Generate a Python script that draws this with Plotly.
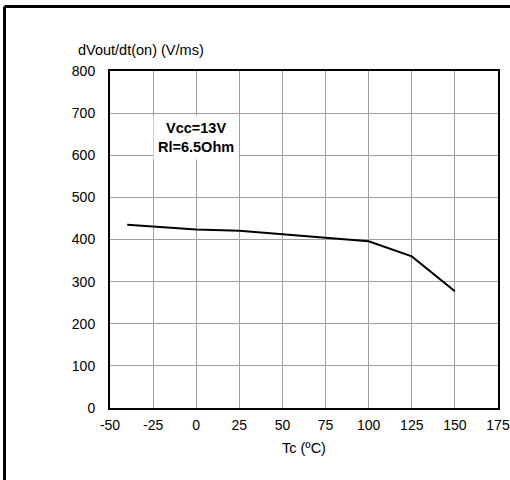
import plotly.graph_objects as go

temps = [-40, 0, 25, 50, 75, 100, 125, 150]
dvdt = [435, 424, 421, 413, 404, 396, 360, 277]
x_ticks = [-50, -25, 0, 25, 50, 75, 100, 125, 150, 175]
y_ticks = [0, 100, 200, 300, 400, 500, 600, 700, 800]

FONT = "Liberation Sans, Arial, Helvetica, sans-serif"

fig = go.Figure()
fig.add_trace(go.Scatter(x=temps, y=dvdt, mode="lines",
                         line=dict(color="black", width=2), showlegend=False))

fx0 = (4.5 - 110) / 388
fy1 = (408 - 6.5) / 337

fig.update_layout(
    width=510, height=480,
    margin=dict(l=110, r=12, t=71, b=72, autoexpand=False),
    paper_bgcolor="white", plot_bgcolor="white",
    font=dict(family=FONT, size=14, color="black"),
    xaxis=dict(range=[-50, 175], tickvals=x_ticks, ticktext=[str(v) for v in x_ticks],
               showgrid=True, gridcolor="#a0a0a0", gridwidth=1,
               showline=True, linecolor="black", linewidth=2, mirror=True,
               zeroline=False, ticks="outside", ticklen=3, tickcolor="rgba(0,0,0,0)"),
    yaxis=dict(range=[0, 800], tickvals=y_ticks, ticktext=[str(v) for v in y_ticks],
               showgrid=True, gridcolor="#a0a0a0", gridwidth=1,
               showline=True, linecolor="black", linewidth=2, mirror=True,
               zeroline=False, ticks="outside", ticklen=10, tickcolor="rgba(0,0,0,0)"),
    shapes=[
        dict(type="line", xref="paper", yref="paper", x0=fx0, x1=1.1, y0=fy1, y1=fy1,
             line=dict(color="black", width=3), layer="above"),
        dict(type="line", xref="paper", yref="paper", x0=fx0, x1=fx0, y0=fy1, y1=-0.3,
             line=dict(color="black", width=3), layer="above"),
    ],
    annotations=[
        dict(text="dVout/dt(on) (V/ms)", xref="paper", yref="paper",
             x=(76 - 110) / 388, y=1.062, xanchor="left", yanchor="middle",
             showarrow=False, font=dict(size=14.5)),
        dict(text="Tc (ºC)", xref="paper", yref="paper",
             x=0.5, y=-0.1187, xanchor="center", yanchor="middle",
             showarrow=False, font=dict(size=14.5)),
        dict(text="<b>Vcc=13V<br>Rl=6.5Ohm</b>", x=0, y=642, xref="x", yref="y",
             showarrow=False, bgcolor="white", font=dict(size=14.5),
             borderpad=4),
    ],
)

fig.write_html("out.html", config={"displayModeBar": False},
               post_script="document.body.style.margin='0';")
